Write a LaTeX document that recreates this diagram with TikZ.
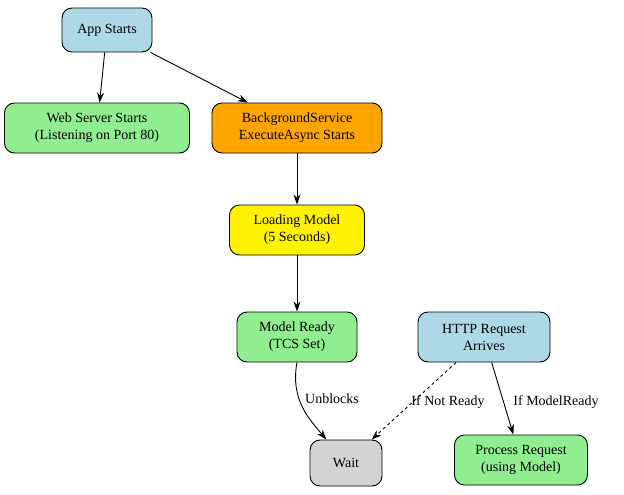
\documentclass[tikz,border=0pt]{standalone}
\usepackage{fontspec}
\setmainfont{Liberation Serif}
\usetikzlibrary{arrows.meta}
\definecolor{lblue}{HTML}{ADD8E6}
\definecolor{lgreen}{HTML}{90EE90}
\definecolor{orng}{HTML}{FFA500}
\definecolor{lgray}{HTML}{D3D3D3}
\begin{document}
\begin{tikzpicture}[x=1pt,y=-1pt,
  box/.style={draw,rounded corners=10pt,line width=0.9pt,align=center,inner sep=0pt,font=\fontsize{14}{17}\selectfont},
  arr/.style={-{Stealth[length=10pt,width=7pt]},line width=0.9pt},
  lab/.style={font=\fontsize{14}{17}\selectfont}]
\useasboundingbox (0,0) rectangle (624,495);
\node[box,fill=lblue,minimum width=90pt,minimum height=44pt] (app) at (107,30) {App Starts};
\node[box,fill=lgreen,minimum width=185pt,minimum height=50pt] (web) at (97,128) {Web Server Starts\\(Listening on Port 80)};
\node[box,fill=orng,minimum width=170pt,minimum height=50pt] (bg) at (297,128) {BackgroundService\\ExecuteAsync Starts};
\node[box,fill=yellow,minimum width=135pt,minimum height=50pt] (load) at (297,230) {Loading Model\\(5 Seconds)};
\node[box,fill=lgreen,minimum width=120pt,minimum height=50pt] (ready) at (297,337) {Model Ready\\(TCS Set)};
\node[box,fill=lblue,minimum width=132pt,minimum height=50pt] (http) at (484,337) {HTTP Request\\Arrives};
\node[box,fill=lgray,minimum width=72pt,minimum height=46pt] (wait) at (346,463) {Wait};
\node[box,fill=lgreen,minimum width=133pt,minimum height=50pt] (proc) at (521,460) {Process Request\\(using Model)};
\draw[arr] (app) -- (web);
\draw[arr] (app) -- (bg);
\draw[arr] (bg) -- (load);
\draw[arr] (load) -- (ready);
\draw[arr] (ready.south) .. controls (290,400) and (310,420) .. (wait);
\node[lab] (l1) at (332,399) {Unblocks};
\draw[arr,dashed] (http) -- (wait);
\node[lab] (l2) at (448,402) {If Not Ready};
\draw[arr] (http) -- (proc);
\node[lab] (l3) at (556,402) {If ModelReady};
\end{tikzpicture}
\end{document}
